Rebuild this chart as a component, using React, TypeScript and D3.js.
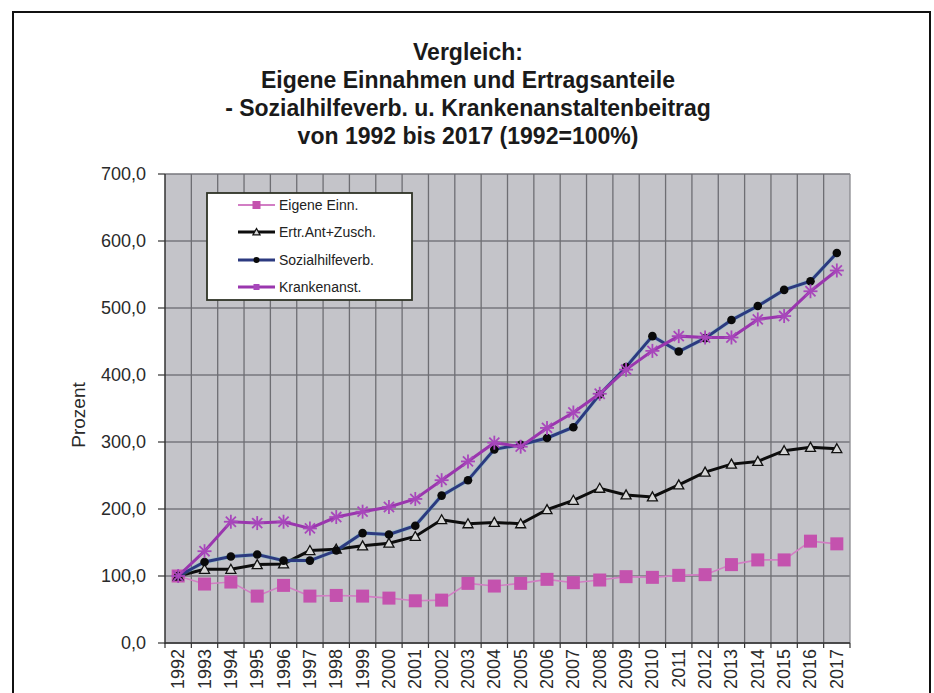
import React from "react";
import * as d3 from "d3";

const years = ["1992","1993","1994","1995","1996","1997","1998","1999","2000","2001","2002","2003","2004","2005","2006","2007","2008","2009","2010","2011","2012","2013","2014","2015","2016","2017"];
const eigene = [100, 88, 91, 70, 86, 70, 71, 70, 67, 63, 64, 89, 85, 89, 95, 90, 94, 99, 98, 101, 102, 117, 124, 124, 152, 148];
const ertr = [100, 110, 110, 117, 118, 138, 140, 145, 149, 159, 184, 178, 180, 178, 199, 213, 231, 221, 218, 236, 255, 267, 271, 287, 292, 290];
const sozial = [100, 121, 129, 132, 123, 123, 138, 164, 162, 175, 220, 243, 289, 296, 306, 322, 371, 412, 458, 435, 455, 482, 503, 527, 540, 582];
const kranken = [100, 137, 181, 179, 181, 171, 188, 196, 203, 215, 243, 271, 299, 293, 321, 344, 372, 408, 436, 458, 456, 456, 483, 488, 525, 556];
const yTicks = [0, 100, 200, 300, 400, 500, 600, 700];
const titleLines = ["Vergleich:", "Eigene Einnahmen und Ertragsanteile", "- Sozialhilfeverb. u. Krankenanstaltenbeitrag", "von 1992 bis 2017 (1992=100%)"];
const legendNames = ["Eigene Einn.", "Ertr.Ant+Zusch.", "Sozialhilfeverb.", "Krankenanst."];

const FONT = "'Liberation Sans', Arial, Helvetica, sans-serif";
const fmt = d3.formatLocale({ decimal: ",", thousands: ".", grouping: [3], currency: ["", ""] }).format(".1f");

export default function App() {
  const W = 934, H = 693;
  const left = 165, right = 850, top = 174, bottom = 643;
  const x = d3.scaleBand<string>().domain(years).range([left, right]).paddingInner(0).paddingOuter(0);
  const y = d3.scaleLinear().domain([0, 700]).range([bottom, top]);
  const cx = (i: number) => (x(years[i]) as number) + x.bandwidth() / 2;
  const line = d3.line<number>().x((_, i) => cx(i)).y((v) => y(v));

  const pink = "#c452ae";
  const pinkLine = "#d27ec4";
  const navy = "#2c3a80";
  const purple = "#9a36ae";

  const star = (px: number, py: number, k: string, color: string) => {
    const r = 7;
    const d = r * 0.72;
    return (
      <g key={k} stroke={color} strokeWidth={1.8}>
        <line x1={px - r} y1={py} x2={px + r} y2={py} />
        <line x1={px} y1={py - r} x2={px} y2={py + r} />
        <line x1={px - d} y1={py - d} x2={px + d} y2={py + d} />
        <line x1={px - d} y1={py + d} x2={px + d} y2={py - d} />
      </g>
    );
  };

  const tri = (px: number, py: number, k: string, s = 5) => (
    <path key={k} d={`M${px},${py - s}L${px + s},${py + s * 0.8}L${px - s},${py + s * 0.8}Z`} fill="#d8d8d8" stroke="#111" strokeWidth={1.3} />
  );

  const legX = 207, legY = 193, legW = 205, legH = 107;
  const legRowY = [205, 232, 260, 287];

  return (
    <svg width={W} height={H} style={{ position: "absolute", left: 0, top: 0, background: "#fff" }} fontFamily={FONT}>
      <rect x={13} y={12} width={917} height={720} fill="#fff" stroke="#111" strokeWidth={2} />
      {titleLines.map((t, i) => (
        <text key={t} x={468} y={60 + i * 28} textAnchor="middle" fontWeight="bold" fontSize={23} fill="#1a1a1a">{t}</text>
      ))}
      <rect x={left} y={top} width={right - left} height={bottom - top} fill="#c4c4c9" />
      {yTicks.map((t) => (
        <line key={"hg" + t} x1={left} x2={right} y1={y(t)} y2={y(t)} stroke="#77777c" strokeWidth={1.3} />
      ))}
      {years.slice(1).map((yr) => (
        <line key={"vg" + yr} x1={x(yr) as number} x2={x(yr) as number} y1={top} y2={bottom} stroke="#6e6e73" strokeWidth={1.3} />
      ))}
      <line x1={right} x2={right} y1={top} y2={bottom} stroke="#8a8a8f" strokeWidth={1.3} />
      <line x1={left} x2={left} y1={top} y2={bottom + 1} stroke="#333" strokeWidth={1.5} />
      <line x1={left} x2={right} y1={bottom} y2={bottom} stroke="#333" strokeWidth={1.5} />
      {yTicks.map((t) => (
        <g key={"yt" + t}>
          <line x1={left - 7} x2={left} y1={y(t)} y2={y(t)} stroke="#333" strokeWidth={1.2} />
          <text x={146} y={y(t) + 6} textAnchor="end" fontSize={18} fill="#2a2a2a">{fmt(t)}</text>
        </g>
      ))}
      {years.map((yr, i) => (
        <g key={"xt" + yr}>
          <line x1={(x(yr) as number)} x2={(x(yr) as number)} y1={bottom} y2={bottom + 5} stroke="#333" strokeWidth={1.2} />
          <text transform={`translate(${cx(i) + 6},${649}) rotate(-90)`} textAnchor="end" fontSize={18} fill="#2a2a2a">{yr}</text>
        </g>
      ))}
      <line x1={right} x2={right} y1={bottom} y2={bottom + 5} stroke="#333" strokeWidth={1.2} />
      <text transform={`translate(85,415) rotate(-90)`} textAnchor="middle" fontSize={19} fill="#2a2a2a">Prozent</text>

      {/* Eigene Einn. */}
      <path d={line(eigene) || ""} fill="none" stroke={pinkLine} strokeWidth={1.6} />
      {eigene.map((v, i) => (
        <rect key={"e" + i} x={cx(i) - 6.5} y={y(v) - 6.5} width={13} height={13} fill={pink} />
      ))}
      {/* Ertr */}
      <path d={line(ertr) || ""} fill="none" stroke="#0d0d0d" strokeWidth={3} />
      {ertr.map((v, i) => tri(cx(i), y(v), "t" + i))}
      {/* Sozial */}
      <path d={line(sozial) || ""} fill="none" stroke="#6fc0c8" strokeWidth={4.5} opacity={0.35} />
      <path d={line(sozial) || ""} fill="none" stroke={navy} strokeWidth={3} />
      {sozial.map((v, i) => (
        <circle key={"s" + i} cx={cx(i)} cy={y(v)} r={4.3} fill="#0a0a0a" />
      ))}
      {/* Kranken */}
      <path d={line(kranken) || ""} fill="none" stroke={purple} strokeWidth={3} />
      {kranken.map((v, i) => star(cx(i), y(v), "k" + i, "#a847bb"))}

      {/* Legend */}
      <rect x={legX} y={legY} width={legW} height={legH} fill="#fff" stroke="#2f3326" strokeWidth={1.8} />
      {legendNames.map((n, i) => {
        const ly = legRowY[i];
        const colors = [pinkLine, "#0d0d0d", navy, purple];
        return (
          <g key={n}>
            <line x1={238} x2={275} y1={ly} y2={ly} stroke={colors[i]} strokeWidth={i === 0 ? 2 : 3} />
            {i === 0 && <rect x={252.5} y={ly - 4} width={8} height={8} fill={pink} />}
            {i === 1 && tri(256.5, ly, "lt", 3.5)}
            {i === 2 && <circle cx={256.5} cy={ly} r={3} fill="#0a0a0a" />}
            {i === 3 && <rect x={253.5} y={ly - 3} width={6} height={6} fill="#a847bb" />}
            <text x={279} y={ly + 5} fontSize={14} fill="#222">{n}</text>
          </g>
        );
      })}
    </svg>
  );
}
